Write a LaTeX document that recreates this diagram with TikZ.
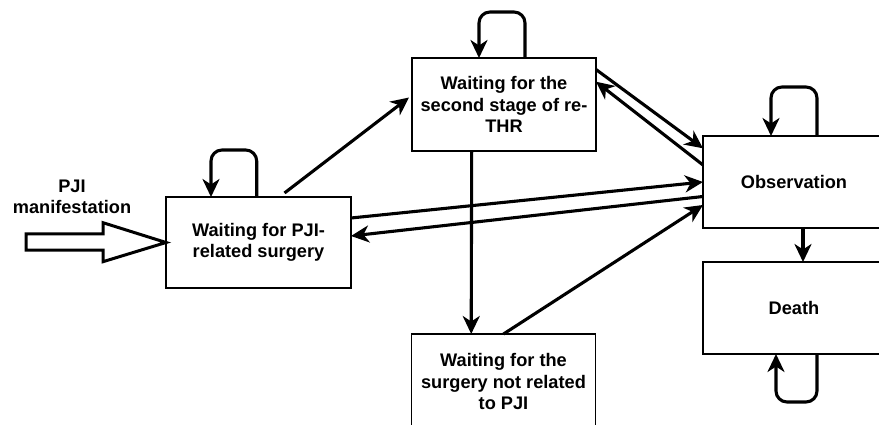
\documentclass[tikz,border=0pt]{standalone}
\usepackage{fontspec}
\setmainfont{Liberation Sans}
\usetikzlibrary{arrows.meta,calc}
\begin{document}
\begin{tikzpicture}[x=1pt,y=-1pt,
  state/.style={draw,line width=1.7pt,inner sep=0pt,outer sep=0pt,align=center,
    font=\fontsize{18.2}{21.3}\selectfont\bfseries},
  conn/.style={line width=3.1pt,-{Stealth[length=18pt,width=17pt,inset=5.5pt]}},
  loopc/.style={conn,rounded corners=11pt}
]
\useasboundingbox (0,0) rectangle (879,425);
\clip (0,0) rectangle (879,425);
\node[state,minimum width=185pt,minimum height=91pt] (left) at (258.5,242.5) {Waiting for PJI-\\related surgery};
\node[state,minimum width=184pt,minimum height=93pt] (top) at (504,104.5) {Waiting for the\\second stage of re-\\THR};
\node[state,minimum width=184pt,minimum height=95pt] (bot) at (503.5,381.5) {Waiting for the\\surgery not related\\to PJI};
\node[state,minimum width=182pt,minimum height=92pt] (obs) at (794,182) {Observation};
\node[state,minimum width=182pt,minimum height=92pt] (death) at (794,308) {Death};
\node[align=center,font=\fontsize{18.2}{21.3}\selectfont\bfseries] (pji) at (72,197) {PJI\\manifestation};
% hollow input arrow
\draw[line width=3pt,line join=miter] (26,234) -- (103,234) -- (103,222.7) -- (left.west) -- (103,261.7) -- (103,250) -- (26,250) -- cycle;
% connectors
\draw[conn] ([yshift=24.5pt]left.east) -- (obs.west);
\draw[conn] ([yshift=-14.5pt]obs.west) -- ([yshift=6.5pt]left.east);
\draw[conn] ([xshift=26pt,yshift=4pt]left.north) -- ([xshift=-3pt,yshift=7pt]top.west);
\draw[conn] ([yshift=35pt]top.east) -- ([yshift=33.7pt]obs.west);
\draw[conn] ([yshift=17pt]obs.west) -- ([yshift=22.8pt]top.east);
\draw[conn] ([xshift=-32.3pt]top.south) -- ([xshift=-32.3pt]bot.north);
\draw[conn] (bot.north) -- ([yshift=-23pt]obs.west);
\draw[conn] ([xshift=9pt]obs.south) -- ([xshift=9pt]death.north);
% self loops
\draw[loopc] ([xshift=-1.8pt]left.north) -- ++(0,-47) -| ([xshift=-47.5pt]left.north);
\draw[loopc] ([xshift=21pt]top.north) -- ++(0,-46) -| ([xshift=-25pt]top.north);
\draw[loopc] ([xshift=23pt]obs.north) -- ++(0,-49) -| ([xshift=-23pt]obs.north);
\draw[loopc] ([xshift=23pt]death.south) -- ++(0,48) -| ([xshift=-18pt]death.south);
\end{tikzpicture}
\end{document}
